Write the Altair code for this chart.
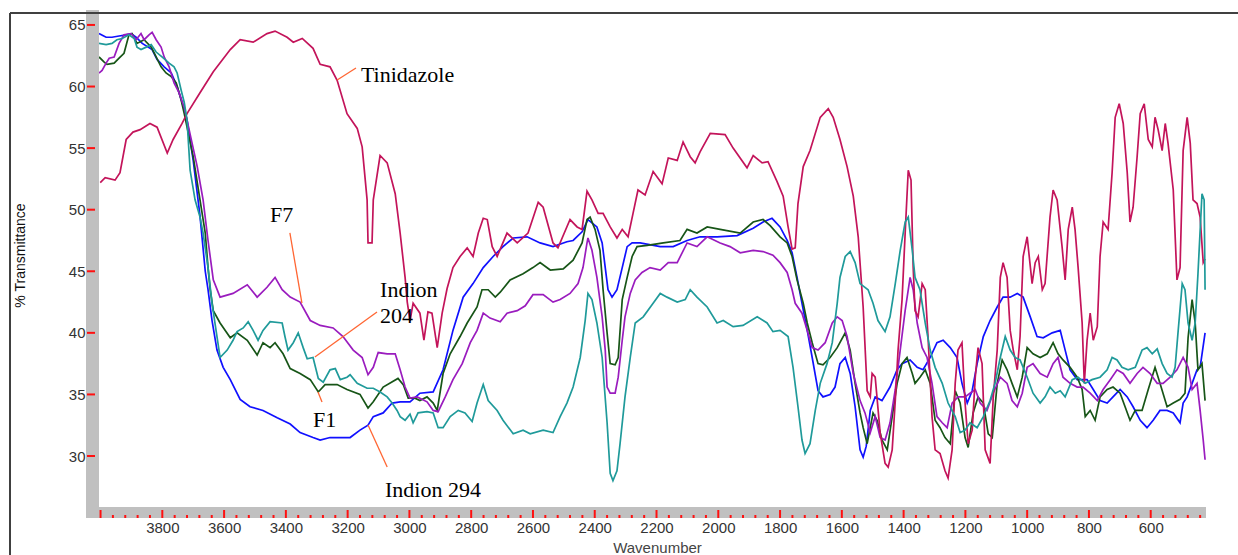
import altair as alt
import pandas as pd

# ---------------- data ----------------
tin_wn = [4001,3985,3953,3937,3917,3895,3872,3840,3817,3784,
          3765,3736,3720,3678,3635,3580,3548,3506,3461,3435,
          3396,3376,3347,3312,3289,3257,3234,3202,3169,3153,
          3137,3134,3121,3117,3095,3072,3046,3030,3014,3007,
          2998,2988,2966,2953,2940,2927,2910,2894,2878,2859,
          2836,2813,2794,2777,2761,2748,2732,2716,2684,2651,
          2616,2583,2567,2535,2519,2480,2457,2441,2425,2409,
          2389,2373,2350,2328,2311,2292,2276,2260,2237,2211,
          2182,2162,2133,2114,2091,2075,2059,2026,1978,1952,
          1907,1887,1858,1839,1810,1790,1774,1761,1751,1742,
          1725,1703,1670,1644,1628,1606,1583,1563,1547,1531,
          1518,1508,1502,1492,1476,1460,1450,1437,1427,1418,
          1405,1395,1385,1376,1369,1363,1353,1340,1330,1321,
          1308,1298,1282,1266,1256,1243,1233,1224,1211,1201,
          1191,1178,1168,1159,1146,1136,1120,1110,1097,1087,
          1078,1065,1055,1045,1032,1023,1013,1000,984,974,
          964,951,942,926,916,903,887,877,867,854,
          845,835,822,815,806,796,786,773,764,754,
          738,725,715,702,689,676,667,657,644,634,
          621,608,595,586,576,563,553,544,527,515,
          505,495,482,472,463,450,440,430,424]
tin_t = [52.2,52.6,52.4,53.0,55.7,56.3,56.5,57.0,56.7,54.6,
         55.7,57.0,57.8,59.5,61.2,63.0,63.8,63.6,64.3,64.5,
         64.0,63.6,63.9,63.1,61.8,61.6,60.5,57.8,56.6,55.1,
         50.8,47.3,47.3,50.8,54.4,53.8,51.3,48.1,44.5,42.5,
         41.0,42.4,41.6,39.4,41.7,41.6,38.8,41.6,43.6,45.3,
         46.2,46.9,46.2,48.1,49.3,49.2,47.0,46.2,48.1,47.3,
         48.1,50.6,50.2,47.3,46.9,49.2,48.6,48.4,51.5,50.8,
         49.7,49.7,48.6,47.7,48.4,47.8,49.7,51.6,51.2,53.1,
         52.1,54.2,54.0,55.5,54.3,53.8,54.7,56.2,56.1,55.0,
         53.4,54.4,53.8,53.9,52.3,51.1,48.6,46.8,46.9,50.5,
         53.5,54.8,57.5,58.2,57.5,55.7,53.5,51.1,47.8,42.1,
         35.3,34.8,36.7,36.4,31.9,29.4,29.1,30.5,34.5,38.6,
         42.7,48.1,53.2,52.4,45.3,41.8,41.3,44.0,43.5,39.7,
         33.2,30.5,30.2,28.8,28.2,30.5,35.9,38.6,39.2,34.3,
         31.0,32.1,36.4,38.8,37.5,30.5,29.4,34.7,38.6,44.5,
         45.7,44.5,40.2,38.6,37.0,39.7,46.2,47.8,44.0,45.7,
         46.2,43.5,44.0,49.4,51.6,50.8,47.0,44.3,48.4,50.2,
         48.4,45.3,40.8,35.9,39.4,41.6,39.4,40.5,46.2,49.0,
         48.4,53.0,57.5,58.6,57.0,53.0,49.0,50.2,54.3,57.8,
         58.6,55.7,55.1,57.5,56.5,54.8,57.0,55.4,51.6,44.3,
         45.3,54.8,57.5,55.4,50.8,50.5,49.4,45.7,46.0]

i294_wn = [4005,3982,3963,3940,3917,3901,3885,3865,3833,3817,
           3794,3771,3752,3736,3720,3700,3678,3661,3652,3639,
           3623,3603,3580,3548,3516,3474,3428,3386,3354,3312,
           3289,3257,3224,3192,3160,3134,3117,3085,3056,3030,
           2998,2966,2923,2891,2859,2826,2794,2761,2729,2697,
           2664,2619,2577,2535,2490,2470,2441,2422,2393,2376,
           2366,2357,2344,2328,2311,2295,2279,2253,2188,2146,
           2101,2059,2004,1939,1887,1855,1826,1800,1777,1761,
           1745,1729,1712,1696,1677,1661,1638,1622,1606,1589,
           1573,1557,1541,1531,1521,1508,1492,1470,1444,1421,
           1405,1379,1356,1337,1314,1292,1272,1249,1227,1211,
           1194,1178,1162,1142,1120,1097,1078,1055,1032,1013,
           990,968,948,919,893,877,861,838,806,786,
           764,741,722,699,676,657,634,612,592,570,
           547,527,505,495,482,466,450,440,424]
i294_t = [64.3,64.0,64.0,64.1,64.2,64.3,64.0,63.5,63.0,62.2,
          61.6,61.1,60.0,58.7,57.3,54.0,49.5,45.0,43.5,41.0,
          38.6,37.2,36.2,34.6,34.0,33.7,33.1,32.6,31.9,31.5,
          31.3,31.5,31.5,31.5,32.1,32.5,33.2,33.5,34.3,34.4,
          34.4,35.1,35.2,37.0,40.2,42.9,44.0,45.3,46.2,47.0,
          47.7,47.8,47.3,47.0,47.4,47.5,48.2,49.2,48.6,47.3,
          45.3,43.5,42.9,43.5,45.3,47.0,47.3,47.3,47.0,47.0,
          47.5,47.8,47.8,47.9,48.5,49.0,49.3,48.6,47.5,46.5,
          44.5,42.4,40.2,38.0,35.3,34.8,35.0,35.6,37.5,38.0,
          36.7,34.0,30.5,29.9,30.8,33.7,34.8,34.5,35.6,37.0,
          37.5,37.8,37.2,37.0,38.0,39.2,39.4,38.8,38.0,35.9,
          34.3,35.3,37.5,39.7,41.0,42.1,42.9,42.9,43.2,42.9,
          41.3,39.7,39.6,40.0,40.2,38.6,37.0,36.2,36.2,35.4,
          34.5,34.3,34.8,35.4,34.8,34.0,32.9,32.3,32.9,33.7,
          33.7,33.5,32.7,34.3,34.8,35.9,37.0,37.2,40.0]

f1_wn = [4005,3989,3979,3956,3940,3924,3908,3898,3882,3859,
         3836,3820,3804,3788,3771,3755,3739,3729,3700,3678,
         3661,3652,3645,3635,3613,3580,3558,3525,3493,3474,
         3451,3435,3409,3386,3354,3321,3295,3273,3234,3202,
         3160,3134,3117,3085,3037,3020,3004,2982,2966,2943,
         2923,2910,2891,2868,2836,2813,2781,2765,2745,2722,
         2706,2674,2632,2600,2577,2544,2502,2470,2441,2425,
         2415,2399,2383,2373,2360,2350,2334,2324,2311,2295,
         2279,2263,2230,2178,2124,2101,2069,2036,1994,1929,
         1887,1855,1832,1800,1777,1761,1745,1725,1712,1696,
         1677,1661,1638,1615,1589,1573,1557,1541,1531,1518,
         1508,1499,1486,1470,1453,1437,1421,1405,1389,1372,
         1363,1347,1330,1314,1298,1282,1266,1249,1233,1217,
         1201,1191,1175,1159,1142,1126,1113,1097,1081,1065,
         1049,1032,1016,1000,981,958,935,916,900,884,
         861,838,822,812,796,780,764,741,722,699,
         683,667,650,628,608,586,570,547,527,505,
         489,479,466,456,447,434,424]
f1_t = [62.4,62.0,61.8,61.9,62.3,62.7,64.2,64.3,63.5,63.8,
        63.2,62.4,61.6,61.1,60.8,60.3,58.9,57.8,54.3,50.8,
        48.1,45.3,43.5,41.8,40.8,39.6,40.0,39.4,38.2,39.2,
        38.8,39.2,38.3,37.1,36.7,36.2,35.2,35.8,35.8,35.4,
        35.0,33.9,34.4,35.6,36.3,35.8,34.7,34.7,34.5,34.8,
        34.3,33.7,36.7,38.3,39.7,40.8,42.1,43.5,43.5,42.9,
        43.3,44.3,44.8,45.3,45.7,45.1,45.2,45.9,47.3,49.2,
        49.4,48.4,46.7,43.5,40.0,37.5,37.4,38.0,42.7,44.5,
        46.2,47.0,47.1,47.3,47.5,48.4,48.1,48.6,48.4,48.1,
        49.0,49.2,48.7,47.8,47.3,46.2,44.3,42.4,40.8,39.2,
        37.5,37.4,38.0,38.8,40.0,38.6,35.9,33.5,32.3,31.0,
        32.3,33.5,32.9,31.3,30.5,33.2,35.9,37.5,38.0,36.7,
        35.9,36.4,37.0,35.9,32.9,32.3,31.5,31.0,35.3,34.3,
        31.5,30.7,33.5,34.8,34.3,31.8,31.5,35.9,37.8,37.0,
        35.9,34.8,36.4,38.8,38.3,38.0,38.3,39.2,38.3,37.8,
        37.2,36.4,35.4,33.2,33.7,32.9,34.8,35.4,35.6,35.1,
        34.0,32.9,33.7,33.7,35.4,37.2,35.9,34.0,34.3,34.6,
        35.1,39.6,42.7,40.8,37.0,37.5,34.5]

f7_wn = [4005,3995,3982,3972,3956,3940,3924,3901,3885,3869,
         3859,3843,3833,3820,3804,3794,3778,3762,3746,3729,
         3687,3668,3652,3635,3613,3571,3525,3493,3461,3435,
         3412,3386,3354,3321,3289,3247,3215,3182,3153,3134,
         3117,3101,3072,3046,3030,3014,2998,2975,2943,2923,
         2907,2884,2859,2829,2803,2781,2761,2739,2706,2684,
         2651,2625,2600,2567,2535,2512,2480,2454,2438,2425,
         2422,2409,2393,2376,2366,2360,2350,2334,2324,2311,
         2302,2285,2269,2247,2221,2188,2162,2133,2101,2069,
         2036,1994,1962,1929,1887,1855,1823,1800,1777,1761,
         1751,1729,1712,1696,1677,1654,1631,1615,1599,1583,
         1563,1541,1525,1508,1492,1476,1460,1444,1427,1411,
         1395,1379,1369,1356,1340,1324,1308,1292,1275,1259,
         1243,1224,1201,1185,1168,1152,1130,1110,1087,1065,
         1049,1032,1016,1000,981,958,935,916,900,884,
         861,838,819,796,773,754,731,709,689,667,
         644,625,602,579,560,537,515,495,479,466,
         450,440,430,424]
f7_t = [61.1,61.3,61.9,62.3,62.4,63.5,64.2,64.3,63.8,64.3,
        63.8,64.2,64.4,63.8,63.2,62.4,61.6,60.3,59.5,58.3,
        53.5,50.8,47.5,44.3,42.9,43.2,43.9,42.9,43.7,44.5,
        43.5,42.9,42.5,41.0,40.6,40.4,39.7,38.6,38.0,36.6,
        37.2,38.4,38.3,38.3,37.0,35.6,34.7,34.8,34.4,33.7,
        33.6,34.8,36.2,37.5,39.2,40.2,41.6,41.2,40.9,41.6,
        41.8,42.2,43.1,43.1,42.5,42.7,43.2,44.0,45.3,47.3,
        47.7,46.7,44.5,41.3,38.6,35.6,35.1,35.1,36.4,39.4,
        41.3,43.2,44.3,44.9,45.3,45.1,45.7,45.7,47.3,47.0,
        47.8,47.3,47.0,46.5,46.7,46.6,46.3,45.7,44.9,43.5,
        42.4,41.6,40.2,38.8,38.6,39.2,40.8,41.3,41.0,39.7,
        36.7,34.5,33.5,31.9,33.2,31.5,31.3,32.7,35.4,38.6,
        41.8,44.5,43.5,40.8,38.8,38.0,35.9,33.2,32.7,32.3,
        34.3,34.8,34.8,35.1,35.4,34.3,33.7,35.1,36.4,35.9,
        34.5,34.0,35.1,37.2,37.5,36.7,36.4,37.5,38.0,36.4,
        35.9,35.6,35.6,35.1,34.5,35.4,36.2,37.0,36.7,35.9,
        36.7,37.2,36.7,35.9,35.9,36.4,37.0,38.0,37.2,35.4,
        35.9,33.7,31.3,29.7]

i204_wn = [4005,3982,3963,3947,3930,3908,3891,3882,3869,3852,
           3836,3820,3801,3778,3762,3752,3739,3729,3720,3710,
           3694,3678,3668,3652,3639,3623,3613,3590,3571,3558,
           3538,3522,3506,3490,3474,3451,3412,3403,3393,3376,
           3360,3344,3331,3312,3295,3279,3257,3240,3224,3202,
           3192,3169,3137,3117,3095,3072,3056,3040,3030,3014,
           2998,2988,2972,2943,2923,2907,2891,2868,2842,2820,
           2797,2781,2761,2745,2716,2697,2664,2632,2609,2567,
           2535,2512,2490,2470,2447,2431,2422,2409,2393,2376,
           2360,2350,2341,2328,2318,2302,2285,2269,2243,2211,
           2188,2166,2133,2107,2091,2069,2036,2004,1984,1952,
           1920,1874,1842,1823,1800,1774,1758,1742,1729,1719,
           1703,1686,1670,1648,1631,1615,1606,1589,1573,1557,
           1541,1515,1499,1483,1460,1444,1427,1411,1395,1385,
           1372,1363,1347,1330,1314,1298,1275,1256,1233,1217,
           1201,1185,1162,1142,1120,1104,1087,1071,1055,1039,
           1023,1000,981,958,942,926,909,893,877,854,
           835,812,790,764,741,725,709,693,673,650,
           628,612,595,579,563,547,531,521,511,498,
           489,479,466,456,447,434,427,424]
i204_t = [63.5,63.4,63.5,63.8,63.9,64.2,63.9,63.2,63.0,63.2,
          63.4,62.8,62.4,61.9,61.6,61.1,59.7,58.7,57.3,53.2,
          50.8,49.4,48.1,45.3,42.4,39.7,38.0,38.6,39.4,40.1,
          40.4,40.9,40.2,39.4,40.2,40.9,40.8,39.7,38.6,39.2,
          40.0,38.8,37.9,38.0,36.3,36.0,37.0,37.1,36.2,36.4,
          36.6,35.9,35.5,35.5,35.2,34.8,34.3,33.7,33.2,32.9,
          33.4,32.7,33.5,33.6,33.5,32.3,32.3,33.2,33.7,33.5,
          32.8,34.3,35.8,34.5,33.7,32.9,31.8,32.1,31.8,32.1,
          31.9,33.2,34.3,35.6,38.0,41.0,43.2,42.7,40.8,38.0,
          32.7,28.6,28.0,28.8,31.0,34.8,38.0,40.8,41.3,42.4,
          43.2,42.9,42.5,42.7,43.5,42.9,42.1,40.8,41.0,40.5,
          40.6,41.3,40.8,40.1,40.2,39.7,37.2,34.0,31.3,30.2,
          31.0,33.7,35.9,37.5,39.2,42.4,44.5,46.2,46.6,45.7,
          44.0,43.5,42.4,41.0,40.1,41.3,44.0,46.7,49.0,49.4,
          46.7,44.5,43.5,40.8,38.6,37.2,35.9,34.3,33.2,31.9,
          32.1,32.7,32.3,33.2,34.5,35.9,38.0,39.7,38.6,38.0,
          37.8,36.4,35.1,34.3,34.8,35.6,35.1,35.3,34.8,36.2,
          36.4,35.9,36.2,36.4,37.0,38.0,37.8,37.2,37.0,37.2,
          38.6,38.8,38.3,38.7,37.5,36.7,36.4,37.2,40.2,44.0,
          43.5,40.8,39.4,40.8,44.8,51.3,50.8,43.5]

series_names = ["Indion 294", "F1", "F7", "Tinidazole", "Indion 204"]
series_colors = ["#1010FF", "#175517", "#9A1CBE", "#C3145A", "#1F9A9A"]

x_label_values = [3800, 3600, 3400, 3200, 3000, 2800, 2600, 2400, 2200,
                  2000, 1800, 1600, 1400, 1200, 1000, 800, 600]
y_label_values = [30, 35, 40, 45, 50, 55, 60, 65]

# annotations (text labels with orange leader lines)
ann_text = ["Tinidazole", "F7", "Indion", "204", "F1", "Indion 294"]
ann_wn = [3157, 3451, 3095, 3095, 3312, 3079]
ann_t = [60.37, 49.0, 42.91, 40.8, 32.35, 26.67]

lead_wn1 = [3234, 3387, 3306, 3296, 3134]
lead_t1 = [60.53, 48.11, 38.04, 35.2, 32.52]
lead_wn2 = [3173, 3348, 3105, 3283, 3072]
lead_t2 = [61.51, 42.42, 41.69, 34.38, 29.1]

# ---------------- build tables ----------------
all_series = {
    "Tinidazole": (tin_wn, tin_t),
    "Indion 294": (i294_wn, i294_t),
    "F1": (f1_wn, f1_t),
    "F7": (f7_wn, f7_t),
    "Indion 204": (i204_wn, i204_t),
}
rows = []
for name in series_names:
    wn, tt = all_series[name]
    for w, v in zip(wn, tt):
        rows.append({"series": name, "wn": w, "t": v})
df = pd.DataFrame(rows)

ann_df = pd.DataFrame({"label": ann_text, "wn": ann_wn, "t": ann_t})
lead_df = pd.DataFrame({"wn": lead_wn1, "t": lead_t1, "wn2": lead_wn2, "t2": lead_t2})

major_ticks = list(range(4000, 439, -200))
minor_ticks = [v for v in range(4000, 439, -40) if v % 200 != 0]
xt_major = pd.DataFrame({"wn": major_ticks})
xt_minor = pd.DataFrame({"wn": minor_ticks})
yt_df = pd.DataFrame({"t": y_label_values})
one = pd.DataFrame({"a": [0]})

W, H = 1107, 494
xs = alt.Scale(domain=[421, 4005], reverse=True, nice=False, zero=False)
ys = alt.Scale(domain=[25.86, 65.97], nice=False, zero=False)

GRAY = "#C0C0C0"
RED = "#FF1010"
ORANGE = "#FF6633"

x_axis = alt.Axis(values=x_label_values, format="d", domain=False, ticks=False,
                  tickSize=0, grid=False, labelPadding=13, labelFontSize=15,
                  labelFont="Liberation Sans", labelColor="#333333",
                  labelFlush=False, labelOverlap=False,
                  title="Wavenumber", titleFont="Liberation Sans",
                  titleFontSize=15, titleFontWeight="normal", titleColor="#444444",
                  titleX=558, titleY=40, titleAlign="center", titleBaseline="middle")
y_axis = alt.Axis(values=y_label_values, format="d", domain=False, ticks=False,
                  tickSize=0, grid=False, labelPadding=14, labelFontSize=15,
                  labelFont="Liberation Sans", labelColor="#333333",
                  title="% Transmittance", titleFont="Liberation Sans",
                  titleFontSize=14, titleFontWeight="normal", titleColor="#111111",
                  titleAngle=270, titleX=-79, titleY=242, titleAlign="center",
                  titleBaseline="middle")

lines = alt.Chart(df).mark_line(strokeWidth=1.7, clip=True).encode(
    x=alt.X("wn:Q", scale=xs, axis=x_axis, title="Wavenumber"),
    y=alt.Y("t:Q", scale=ys, axis=y_axis, title="% Transmittance"),
    color=alt.Color("series:N", scale=alt.Scale(domain=series_names, range=series_colors),
                    legend=None),
    detail="series:N",
)

left_band = alt.Chart(one).mark_rect(color=GRAY).encode(
    x=alt.value(-13), x2=alt.value(0), y=alt.value(-3), y2=alt.value(H + 11))
bottom_band = alt.Chart(one).mark_rect(color=GRAY).encode(
    x=alt.value(-13), x2=alt.value(W), y=alt.value(H), y2=alt.value(H + 11))

xt_maj = alt.Chart(xt_major).mark_rule(color=RED, strokeWidth=2).encode(
    x=alt.X("wn:Q", scale=xs, title="Wavenumber"), y=alt.value(H + 3), y2=alt.value(H + 11))
xt_min = alt.Chart(xt_minor).mark_rule(color=RED, strokeWidth=2).encode(
    x=alt.X("wn:Q", scale=xs, title="Wavenumber"), y=alt.value(H + 8), y2=alt.value(H + 11))
yt = alt.Chart(yt_df).mark_rule(color=RED, strokeWidth=2).encode(
    y=alt.Y("t:Q", scale=ys, title="% Transmittance"), x=alt.value(-12), x2=alt.value(-4))

leaders = alt.Chart(lead_df).mark_rule(color=ORANGE, strokeWidth=1.3).encode(
    x=alt.X("wn:Q", scale=xs, title="Wavenumber"),
    y=alt.Y("t:Q", scale=ys, title="% Transmittance"),
    x2="wn2:Q", y2="t2:Q")

labels = alt.Chart(ann_df).mark_text(align="left", baseline="alphabetic",
                                     font="Liberation Serif", fontSize=22,
                                     color="#000000").encode(
    x=alt.X("wn:Q", scale=xs, title="Wavenumber"),
    y=alt.Y("t:Q", scale=ys, title="% Transmittance"),
    text="label:N")

frame_top = alt.Chart(one).mark_rule(color="#404040", strokeWidth=2).encode(
    x=alt.value(-89), x2=alt.value(W + 32), y=alt.value(0))
frame_left = alt.Chart(one).mark_rule(color="#404040", strokeWidth=2).encode(
    x=alt.value(-89), y=alt.value(0), y2=alt.value(H + 48))

chart = alt.layer(
    lines, left_band, bottom_band, xt_maj, xt_min, yt, leaders, labels,
    frame_top, frame_left
).properties(
    width=W, height=H,
    autosize=alt.AutoSizeParams(type="none"),
    padding={"left": 99, "top": 13, "right": 32, "bottom": 48},
    background="white",
).configure_view(stroke=None)

chart.save("out.html", embed_options={"renderer": "svg", "actions": False})
